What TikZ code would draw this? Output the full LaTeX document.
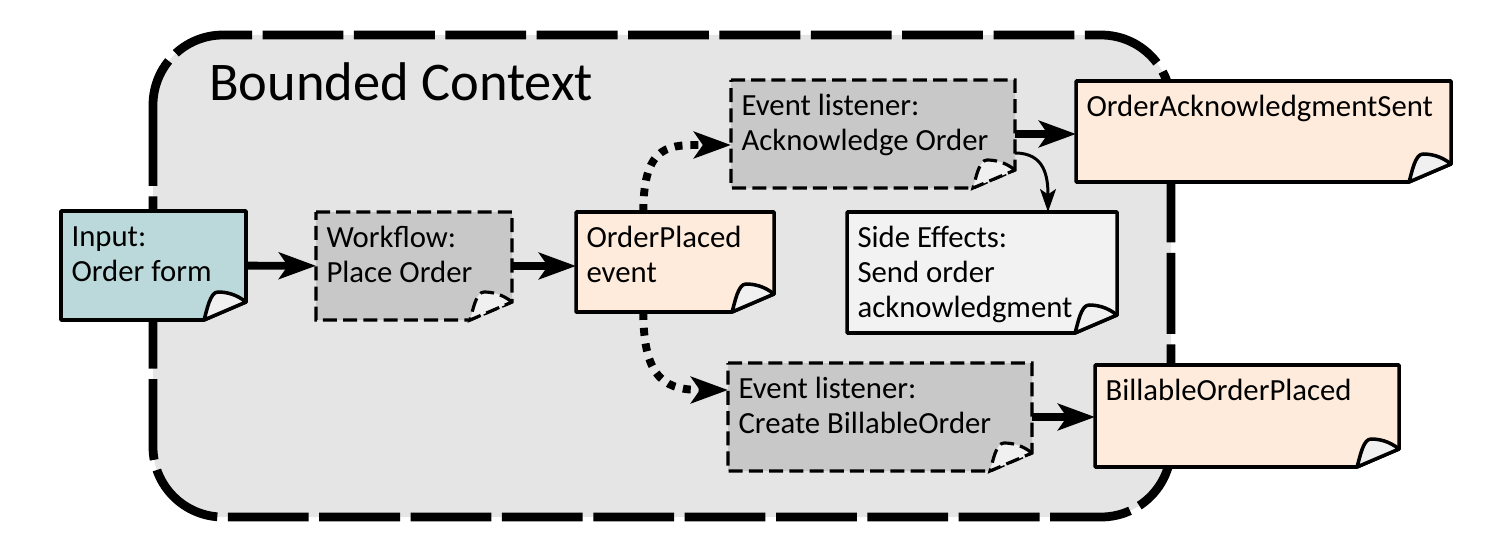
\documentclass[tikz,border=0pt]{standalone}
\usepackage{fontspec}
\setmainfont{Carlito}
\usetikzlibrary{arrows.meta,calc}
\definecolor{ctxgray}{HTML}{E5E5E5}
\definecolor{nteal}{HTML}{BBD9DA}
\definecolor{npeach}{HTML}{FEEBDC}
\definecolor{ngray}{HTML}{C8C8C8}
\definecolor{nlight}{HTML}{F2F2F2}
\definecolor{ncurl}{HTML}{F0F0F0}

% sticky note: name, x, y (top left, px), width, height, look, text
\newcommand\stickynote[7]{%
  \draw[#6] (#2,#3) -- ++(#4,0) -- ++(0,#5-18) -- ++(-42,18) -- ++(-#4+42,0) -- cycle;
  \draw[#6, fill=ncurl] (#2+#4,#3+#5-18) .. controls +(-10,-8) and +(8,0) .. (#2+#4-28,#3+#5-28)
    .. controls +(-8,0) and +(3,-10) .. (#2+#4-42,#3+#5) -- cycle;
  \node[notetext] (#1) at (#2,#3) {\parbox[c][\dimexpr0.02cm*#5-12pt\relax][t]{\dimexpr0.02cm*#4-12pt\relax}{\begin{tabular}[t]{@{}l@{}}#7\end{tabular}}};
}

\begin{document}
\begin{tikzpicture}[x=0.02cm, y=-0.02cm,
  ctx/.style={fill=ctxgray, line width=5pt, dash pattern=on 46pt off 6pt, rounded corners=1.4cm},
  notetext/.style={anchor=north west, inner xsep=6pt, inner ysep=6pt, outer sep=0pt, font=\fontsize{17.5}{20}\selectfont},
  solidnote/.style={draw=black, line width=2pt, line join=round},
  dashnote/.style={draw=black, line width=1.8pt, dash pattern=on 8pt off 3.5pt},
  heavy/.style={line width=4.5pt, -{Stealth[length=21pt, width=15pt, inset=5pt]}},
  dotty/.style={heavy, dash pattern=on 4.5pt off 4.5pt},
  thinarr/.style={line width=1.7pt, -{Stealth[length=13pt, width=9pt, inset=3pt]}},
]
  \useasboundingbox (0,0) rectangle (1486,544);
  \draw[ctx] (153,35) rectangle (1171,517);
  \node[font=\fontsize{31}{36}\selectfont, anchor=base west] (title) at (203,100) {Bounded Context};

  \stickynote{input}{61}{211}{185}{109}{solidnote, fill=nteal}{Input:\\Order form}
  \stickynote{flow}{316}{212}{196}{108}{dashnote, fill=ngray}{Workflow:\\Place Order}
  \stickynote{placed}{576}{212}{198}{100}{solidnote, fill=npeach}{OrderPlaced\\event}
  \stickynote{acklsn}{731}{80}{284}{108}{dashnote, fill=ngray}{Event listener:\\Acknowledge Order}
  \stickynote{side}{847}{212}{270}{121}{solidnote, fill=nlight}{Side Effects:\\Send order\\acknowledgment}
  \stickynote{acksent}{1076}{81}{375}{101}{solidnote, fill=npeach}{OrderAcknowledgmentSent}
  \stickynote{billlsn}{728}{363}{304}{108}{dashnote, fill=ngray}{Event listener:\\Create BillableOrder}
  \stickynote{billed}{1095}{365}{304}{102}{solidnote, fill=npeach}{BillableOrderPlaced}

  \draw[heavy] (input) -- (flow);
  \draw[heavy] (flow.east) -- (flow.east -| placed.west);
  \draw[dotty] ($(placed.north west)!0.34!(placed.north east)$) .. controls +(0,-70) and +(-60,0) .. ([yshift=-0.22cm]acklsn.west);
  \draw[dotty] ($(placed.south west)!0.34!(placed.south east)$) .. controls +(0,70) and +(-60,0) .. ([yshift=0.54cm]billlsn.west);
  \draw[heavy] (acklsn.east) -- (acklsn.east -| acksent.west);
  \draw[thinarr] ([yshift=-0.38cm]acklsn.east) .. controls +(30,0) and +(0,-35) .. ([xshift=1.32cm]side.north);
  \draw[heavy] (billlsn.east) -- (billlsn.east -| billed.west);
\end{tikzpicture}
\end{document}
